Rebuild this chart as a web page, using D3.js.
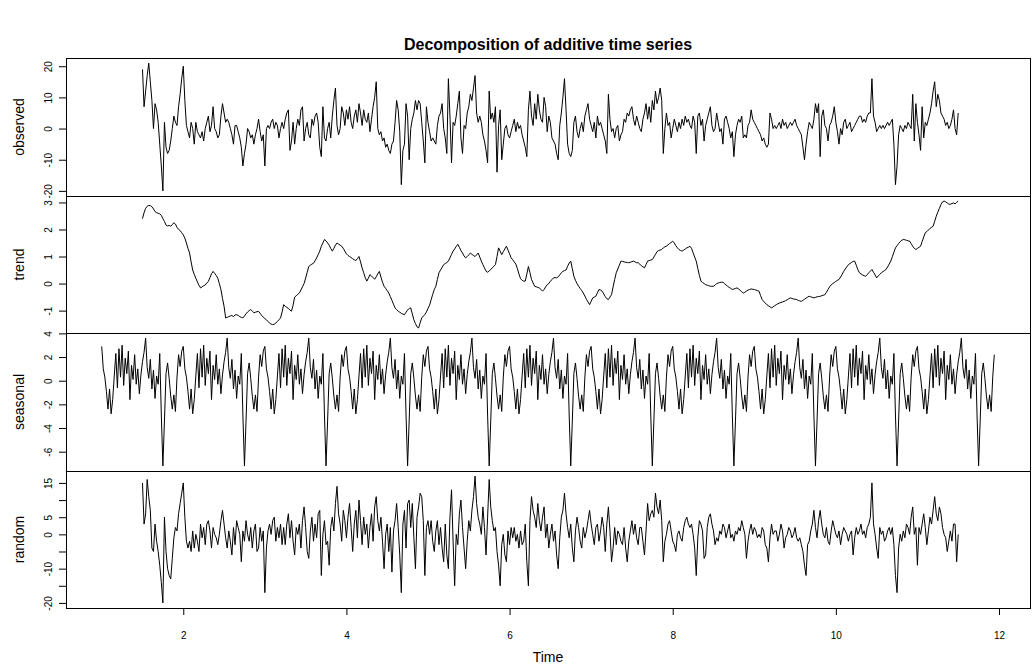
<!DOCTYPE html>
<html>
<head>
<meta charset="utf-8">
<script src="https://cdn.jsdelivr.net/npm/d3@7"></script>
<style>
body { margin: 0; background: #fff; }
</style>
</head>
<body>
<div id="graph"></div>
<script>
// 52 samples per time unit
var freq = 52;
var seasonalStart = 1, seasonalLength = 570;
var compStart = 1.5; // observed, trend and random begin half a period in

// one period of the seasonal component (it repeats every period)
var seasonalFigure = [2.9, 1.0, 0.3, -0.9, -2.4, -0.7, -2.8, -1.6, 0.4, 2.3,
  -0.6, 2.7, 0.3, 3.0, -0.4, 1.9, 0.6, 2.5, -1.6, 1.3,
  0.1, 2.2, -0.3, 1.0, -1.1, 0.5, 1.6, 2.4, 3.6, 1.1,
  0.2, 1.8, -0.7, 0.9, -1.5, 0.4, -0.3, 2.3, -2.9, -7.2,
  -3.4, 0.6, 1.5, 0.2, -1.3, -2.4, -1.2, -2.6, 0.3, 2.2,
  1.2, 2.5];

var observed = [19, 7, 12, 17, 21, 15, 9, 0, 8, 6,
  2, -5, -12, -20, 2, -6, -8, -7, -4, 0,
  4, 2, 1, 7, 11, 16, 20, 9, 1, -1,
  -3, 2, 0, -5, 2, -1, -2, -3, -1, -4,
  0, 2, 4, -1, 1, 7, 0, -1, -3, -2,
  4, 8, 5, 2, 3, 2, 0, -2, -5, 1,
  1, -1, -3, -6, -12, -8, -5, 0, -1, -3,
  -2, -5, -2, 0, 3, -1, -4, -2, -12, 0,
  1, 0, 2, 3, 0, 2, 1, -3, 0, 2,
  0, 3, 5, 6, -7, -4, 2, -5, 0, 3,
  1, 6, 7, -4, 0, 2, -2, -3, 3, 1,
  4, 5, 2, -6, -9, 7, -3, -4, 0, 2,
  -3, 4, 9, 13, 1, -2, 0, 7, 5, 1,
  6, 3, 7, 2, 0, 4, 6, 2, 8, 5,
  1, 6, 3, 2, 5, -1, 3, 7, 10, 15,
  0, -2, -1, -4, -3, -6, -5, -7, -8, -5,
  -4, 2, 9, 6, -1, -18, -7, -5, 8, 4,
  -10, 0, 3, 5, 9, 6, 9, 8, 2, -4,
  -11, 7, 2, -1, -4, -3, -4, -5, 1, 4,
  5, 8, 0, -3, -8, 16, 4, -11, 2, 1,
  4, 8, 12, -3, -8, 1, 0, 5, 7, 11,
  9, 13, 17, 5, 2, 4, 2, -2, -4, -7,
  -11, 12, 3, 5, 2, 7, -14, 1, 6, -10,
  -5, 0, 1, -2, -3, -1, 1, 3, -1, 2,
  0, 1, -2, -4, -6, -9, 6, 12, 4, 1,
  8, 3, 11, 6, 3, 2, 10, 7, -1, 4,
  2, -3, -4, -5, -8, -10, 1, 5, 10, 16,
  6, -5, -8, -9, -7, 2, 4, -1, -3, 0,
  2, -1, 4, 6, 8, 3, 1, -1, 2, -3,
  4, 1, 2, 0, -2, -4, -8, 11, 3, -1,
  0, -3, 0, 1, -4, -2, -1, 3, 2, 5,
  4, 6, 7, 3, 1, 4, 2, 0, -1, 3,
  5, 8, 3, 7, 2, 9, 6, 12, 8, 10,
  13, 9, -8, 0, 5, 1, 2, -3, 0, 3,
  1, -1, 2, 0, 3, 1, 4, 2, 3, 1,
  0, 4, 2, -8, 4, 5, 1, 3, -4, 1,
  3, 5, 7, 1, -1, 0, 5, 2, -1, 0,
  -5, 3, 4, 2, 0, -3, -1, -9, -2, 1,
  3, 2, 4, -3, -2, -3, 1, 2, 6, 3,
  2, 1, 0, -1, -2, -4, -3, -5, -6, -5,
  5, 3, 0, 1, 0, 1, 2, 0, 3, 1,
  2, 0, 1, 2, 1, 2, 3, 1, 0, -1,
  -2, -6, -10, -5, -1, 2, 1, 0, 3, 8,
  5, 8, -9, 4, 6, 1, 0, -4, 1, 2,
  4, 7, 2, -1, -5, 0, -2, 2, 3, 0,
  1, 2, -1, 0, 1, 2, 3, 4, 4, 2,
  3, 2, 4, 5, 5, 16, 4, 2, -1, 0,
  1, 0, 1, 0, 1, 2, 1, 2, 3, -5,
  -18, -12, -2, 1, 0, -1, 1, 0, 2, 1,
  0, 11, -4, 8, 2, -2, -7, 7, -3, 2,
  1, 3, 5, 8, 12, 15, 7, 11, 9, 5,
  4, 3, 1, 2, 0, 1, 3, 6, 0, -2,
  5];

var trend = [2.40, 2.62, 2.78, 2.86, 2.89, 2.88, 2.84, 2.76, 2.66, 2.62,
  2.60, 2.58, 2.52, 2.40, 2.30, 2.16, 2.13, 2.15, 2.12, 2.18,
  2.25, 2.20, 2.08, 2.00, 1.96, 1.88, 1.80, 1.68, 1.50, 1.30,
  1.13, 0.80, 0.50, 0.34, 0.20, 0.06, -0.06, -0.16, -0.12, -0.08,
  -0.05, 0.02, 0.08, 0.22, 0.36, 0.45, 0.38, 0.30, 0.20, 0.00,
  -0.22, -0.55, -0.84, -1.27, -1.25, -1.22, -1.20, -1.18, -1.22, -1.16,
  -1.15, -1.18, -1.22, -1.25, -1.27, -1.20, -1.12, -1.05, -1.00, -0.96,
  -1.02, -1.08, -1.06, -1.04, -1.03, -1.10, -1.18, -1.24, -1.30, -1.34,
  -1.40, -1.46, -1.50, -1.52, -1.50, -1.46, -1.40, -1.34, -1.27, -1.05,
  -0.78, -0.84, -0.88, -0.92, -0.98, -1.02, -0.80, -0.50, -0.45, -0.40,
  -0.35, -0.24, -0.12, 0.00, 0.20, 0.42, 0.63, 0.68, 0.72, 0.75,
  0.84, 0.95, 1.07, 1.20, 1.38, 1.50, 1.63, 1.58, 1.50, 1.42,
  1.30, 1.20, 1.30, 1.42, 1.50, 1.46, 1.42, 1.38, 1.30, 1.20,
  1.10, 1.04, 1.00, 0.96, 0.92, 0.88, 0.85, 0.92, 1.00, 0.80,
  0.58, 0.40, 0.22, 0.09, 0.20, 0.33, 0.28, 0.22, 0.16, 0.25,
  0.36, 0.45, 0.24, 0.05, -0.10, -0.18, -0.26, -0.35, -0.48, -0.62,
  -0.76, -0.90, -0.96, -1.02, -1.06, -1.10, -1.13, -1.15, -1.06, -0.98,
  -0.92, -0.90, -1.12, -1.34, -1.48, -1.60, -1.64, -1.45, -1.27, -1.20,
  -1.15, -1.05, -0.92, -0.80, -0.60, -0.40, -0.22, -0.10, 0.15, 0.40,
  0.50, 0.60, 0.70, 0.74, 0.78, 0.83, 0.95, 1.08, 1.20, 1.28,
  1.37, 1.45, 1.34, 1.22, 1.13, 1.02, 0.95, 1.00, 1.06, 1.13,
  1.08, 1.04, 1.00, 1.06, 1.13, 0.98, 0.83, 0.70, 0.58, 0.46,
  0.42, 0.46, 0.52, 0.58, 0.64, 0.70, 1.00, 1.32, 1.20, 1.07,
  1.18, 1.28, 1.38, 1.24, 1.10, 0.95, 0.88, 0.80, 0.72, 0.55,
  0.35, 0.18, 0.12, 0.09, 0.09, 0.35, 0.63, 0.40, 0.15, 0.02,
  -0.10, -0.12, -0.14, -0.16, -0.22, -0.28, -0.22, -0.12, -0.04, 0.00,
  0.08, 0.15, 0.21, 0.22, 0.21, 0.25, 0.32, 0.40, 0.45, 0.48,
  0.50, 0.64, 0.76, 0.83, 0.55, 0.27, 0.12, 0.00, -0.10, -0.18,
  -0.26, -0.35, -0.46, -0.58, -0.68, -0.78, -0.66, -0.53, -0.50, -0.47,
  -0.34, -0.22, -0.24, -0.28, -0.38, -0.48, -0.56, -0.59, -0.50, -0.41,
  -0.12, 0.15, 0.40, 0.54, 0.68, 0.83, 0.82, 0.80, 0.79, 0.78,
  0.77, 0.79, 0.81, 0.83, 0.80, 0.77, 0.77, 0.72, 0.66, 0.62,
  0.58, 0.70, 0.83, 0.85, 0.87, 0.89, 0.98, 1.08, 1.18, 1.22,
  1.24, 1.26, 1.32, 1.36, 1.38, 1.43, 1.48, 1.52, 1.57, 1.50,
  1.40, 1.32, 1.26, 1.22, 1.20, 1.24, 1.28, 1.32, 1.34, 1.38,
  1.30, 1.14, 0.98, 0.83, 0.56, 0.30, 0.09, 0.04, 0.00, -0.04,
  -0.06, -0.08, -0.10, -0.10, -0.10, -0.06, 0.00, 0.02, 0.04, 0.05,
  0.05, 0.00, -0.05, -0.10, -0.14, -0.18, -0.22, -0.20, -0.18, -0.16,
  -0.20, -0.25, -0.30, -0.35, -0.32, -0.28, -0.24, -0.22, -0.20, -0.21,
  -0.22, -0.24, -0.26, -0.28, -0.44, -0.59, -0.66, -0.72, -0.78, -0.82,
  -0.86, -0.90, -0.86, -0.82, -0.78, -0.75, -0.72, -0.70, -0.68, -0.66,
  -0.63, -0.60, -0.56, -0.53, -0.55, -0.57, -0.58, -0.59, -0.62, -0.64,
  -0.66, -0.62, -0.58, -0.54, -0.50, -0.47, -0.49, -0.51, -0.53, -0.51,
  -0.49, -0.48, -0.47, -0.45, -0.43, -0.41, -0.32, -0.22, -0.12, -0.05,
  0.00, 0.04, 0.08, 0.12, 0.15, 0.24, 0.34, 0.45, 0.54, 0.62,
  0.70, 0.74, 0.78, 0.82, 0.83, 0.68, 0.52, 0.40, 0.36, 0.32,
  0.29, 0.27, 0.33, 0.40, 0.46, 0.52, 0.42, 0.32, 0.21, 0.28,
  0.34, 0.40, 0.44, 0.48, 0.52, 0.62, 0.72, 0.83, 0.99, 1.16,
  1.32, 1.40, 1.48, 1.55, 1.60, 1.63, 1.62, 1.60, 1.58, 1.57,
  1.48, 1.38, 1.30, 1.26, 1.30, 1.34, 1.38, 1.55, 1.72, 1.88,
  1.92, 1.98, 2.04, 2.08, 2.12, 2.30, 2.49, 2.64, 2.78, 2.92,
  3.02, 3.05, 3.02, 2.98, 2.94, 2.93, 2.96, 2.98, 2.95, 3.00,
  3.05];

var random = [15, 3, 6, 16, 11, 7, -4, -5, 3, -2,
  -5, -9, -14, -20, 5, -5, -10, -12, -13, -7,
  -1, 2, 1, 6, 9, 12, 15, 5, -2, -4,
  -2, -5, 1, -4, 0, -2, -5, 3, -1, 2,
  -3, 3, 4, 1, -4, 2, 0, -1, -3, 0,
  4, 7, 3, -1, -4, 1, -2, -6, 2, -3,
  4, 2, 0, -8, 1, -2, 4, 0, -2, 2,
  -4, 1, 3, -5, -4, 2, -2, 1, -17, -4,
  1, 3, 0, 4, 5, -2, 2, -1, 3, -3,
  2, -3, 3, 6, -1, 4, -2, -6, 2, 0,
  3, -4, 4, 8, 2, -5, -7, 1, 5, -2,
  3, -1, 6, 7, -12, 0, 4, -3, -2, -9,
  2, 5, 1, 9, 14, 6, 3, -2, 7, 4,
  -1, 5, 9, 2, -5, 3, 7, -1, 10, 4,
  -3, 5, 0, 3, -4, 2, 6, -2, 8, 11,
  4, 1, 5, -2, -10, 0, 3, -5, 2, -11,
  1, 4, 9, 2, -6, -17, 3, 7, -4, 9,
  10, 2, 9, -1, -10, 5, 8, 12, 11, 4,
  -12, 2, 4, 0, 4, -2, -5, 1, 4, -3,
  2, -4, -8, 3, -6, -10, 5, 13, -2, -15,
  0, -3, 6, 10, 2, -4, -10, -2, 4, 1,
  7, 11, 17, 9, 5, 3, 0, 8, 2, -6,
  5, 16, 8, 4, 1, 2, -5, -9, -15, -3,
  0, -6, -8, 1, -3, 2, -1, 2, -2, 0,
  -4, 1, -3, -2, 3, -8, -15, 4, 11, 7,
  5, 2, 9, 4, 1, 5, 8, -1, 3, -4,
  0, 3, -2, 1, -6, -10, -1, 5, 7, 12,
  6, 2, -1, 3, -4, -8, 1, 5, 2, -2,
  -4, 2, -1, 1, 4, 7, 3, 0, -3, 2,
  3, -2, 1, 5, 2, -5, 3, 8, 1, -8,
  -4, 2, -3, 1, 0, -2, -3, 2, -4, -8,
  -2, 1, 4, 0, 3, -1, -3, 2, 2, -2,
  -6, 1, 9, 4, 6, 7, 5, 12, 8, 6,
  10, 4, -8, -2, 0, 3, 4, 1, -2, -3,
  -5, 0, 1, -1, -2, 2, 4, 5, 3, 2,
  3, 0, -4, -12, -1, 4, 3, 1, -7, -6,
  2, 5, 6, 3, 1, -3, -1, -2, 1, 0,
  3, 2, -1, 1, 3, -1, 0, -2, 1, 0,
  2, 1, 4, 2, 0, -7, -2, 1, 3, 0,
  2, 1, -1, 0, -1, 2, 1, -3, -4, -8,
  -1, 3, 0, 1, 1, -2, 0, 3, 1, -4,
  -1, 0, 2, 1, -1, 0, 2, -1, -2, -1,
  -3, -5, -9, -12, -3, -2, 1, 3, 7, 2,
  -1, 4, 7, 3, 0, -1, 2, -2, -3, 1,
  4, 2, 0, -1, 1, -3, 0, 2, 1, 0,
  -2, 0, 1, -6, -1, 2, 0, 1, 3, 0,
  1, -1, 2, 3, 5, 15, 3, 0, -4, -7,
  2, 0, 1, -2, -1, 1, 2, 0, 2, -3,
  -12, -17, -4, 0, -2, 1, -1, 3, 2, 0,
  5, 8, 0, 2, -9, 2, 0, 3, 6, 2,
  -3, 1, 5, 3, 7, 11, 6, 4, 8, 6,
  2, 0, -1, -5, -2, 1, -2, 3, 3, -8,
  0];

var observedTicks = [-20, -10, 0, 10, 20];
var trendTicks = [-1, 0, 1, 2, 3];
var seasonalTicks = [-6, -4, -2, 0, 2, 4];
var randomTicks = [-20, -15, -10, -5, 0, 5, 10, 15];
var randomTickLabels = [-20, -10, 0, 5, 15];
var timeTicks = [2, 4, 6, 8, 10, 12];

var W = 1032, H = 672;
var left = 66, right = 1030;
var edges = [58, 196, 333, 471, 608];
var font = "'Liberation Sans', Arial, sans-serif";

var seasonal = d3.range(seasonalLength).map(function(i) { return seasonalFigure[i % freq]; });

var svg = d3.select("#graph").append("svg")
  .attr("width", W).attr("height", H)
  .style("font-family", font);
svg.append("rect").attr("width", W).attr("height", H).attr("fill", "#fff");

// R pads the range by 4% on each side
var tEnd = seasonalStart + (seasonalLength - 1) / freq;
var xpad = 0.04 * (tEnd - seasonalStart);
var x = d3.scaleLinear().domain([seasonalStart - xpad, tEnd + xpad]).range([left, right]);

var panels = [
  {name: "observed", values: observed, start: compStart, ticks: observedTicks},
  {name: "trend", values: trend, start: compStart, ticks: trendTicks},
  {name: "seasonal", values: seasonal, start: seasonalStart, ticks: seasonalTicks},
  {name: "random", values: random, start: compStart, ticks: randomTicks, labels: randomTickLabels}
];

panels.forEach(function(p, i) {
  var top = edges[i], bottom = edges[i + 1];
  var ext = d3.extent(p.values), ypad = 0.04 * (ext[1] - ext[0]);
  var y = d3.scaleLinear().domain([ext[0] - ypad, ext[1] + ypad]).range([bottom, top]);

  var line = d3.line()
    .x(function(d, j) { return x(p.start + j / freq); })
    .y(function(d) { return y(d); });
  svg.append("path").datum(p.values)
    .attr("d", line)
    .attr("fill", "none")
    .attr("stroke", "#000")
    .attr("stroke-width", 1);

  var ax = svg.append("g")
    .attr("transform", "translate(" + left + ",0)")
    .call(d3.axisLeft(y).tickValues(p.ticks).tickSize(7).tickFormat(function(d) {
      return (!p.labels || p.labels.indexOf(d) >= 0) ? String(d) : "";
    }));
  ax.select(".domain").remove();
  ax.selectAll("line").attr("stroke", "#000");
  ax.selectAll("text")
    .attr("transform", "rotate(-90)")
    .attr("x", 0).attr("y", -14).attr("dy", 0)
    .attr("text-anchor", "middle")
    .attr("font-size", 10)
    .attr("font-family", font)
    .attr("fill", "#000");

  svg.append("text")
    .attr("transform", "translate(24," + ((top + bottom) / 2) + ") rotate(-90)")
    .attr("text-anchor", "middle")
    .attr("font-size", 14)
    .attr("fill", "#000")
    .text(p.name);

  svg.append("rect")
    .attr("x", left + 0.5).attr("y", top + 0.5)
    .attr("width", right - left).attr("height", bottom - top)
    .attr("fill", "none").attr("stroke", "#000");
});

var xa = svg.append("g")
  .attr("transform", "translate(0," + edges[4] + ")")
  .call(d3.axisBottom(x).tickValues(timeTicks).tickSize(7));
xa.select(".domain").remove();
xa.selectAll("line").attr("stroke", "#000");
xa.selectAll("text")
  .attr("y", 31).attr("dy", 0)
  .attr("font-size", 10)
  .attr("font-family", font)
  .attr("fill", "#000");

svg.append("text")
  .attr("x", (left + right) / 2).attr("y", 662)
  .attr("text-anchor", "middle")
  .attr("font-size", 14)
  .attr("fill", "#000")
  .text("Time");

svg.append("text")
  .attr("x", (left + right) / 2).attr("y", 50)
  .attr("text-anchor", "middle")
  .attr("font-size", 16)
  .attr("font-weight", "bold")
  .attr("fill", "#000")
  .text("Decomposition of additive time series");
</script>
</body>
</html>
